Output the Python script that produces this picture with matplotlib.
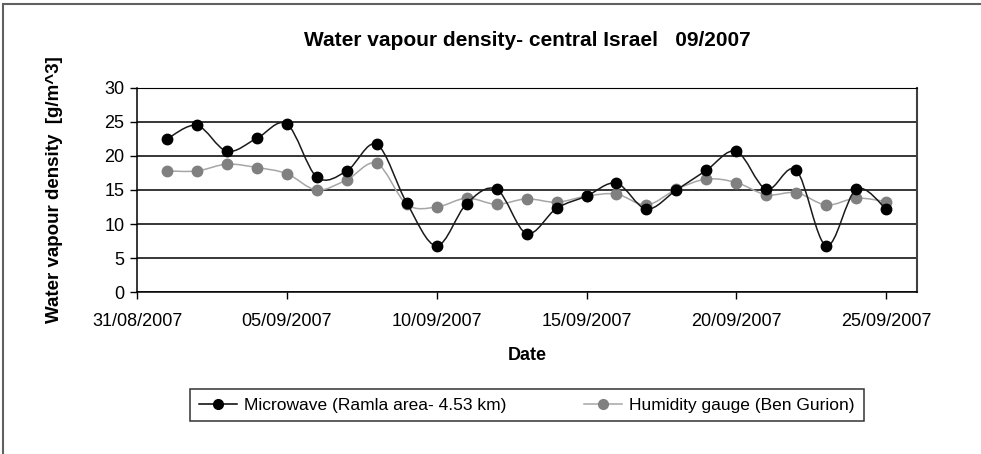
import numpy as np
import matplotlib
matplotlib.use("Agg")
import matplotlib.pyplot as plt
import matplotlib.dates as mdates
from matplotlib.path import Path
from matplotlib.patches import PathPatch, Rectangle
from matplotlib.lines import Line2D
import datetime as dt

plt.rcParams['font.family'] = ['Liberation Sans', 'DejaVu Sans']

# daily values, 1/9/2007 .. 25/9/2007
days = [dt.date(2007, 9, d) for d in range(1, 26)]
microwave = [22.5, 24.5, 20.7, 22.6, 24.7, 16.9, 17.8, 21.7, 13.1, 6.8,
             13.0, 15.1, 8.6, 12.3, 14.1, 16.0, 12.2, 15.0, 17.9, 20.7,
             15.1, 17.9, 6.8, 15.1, 12.2]
humidity = [17.8, 17.8, 18.8, 18.3, 17.4, 15.0, 16.5, 18.9, 12.9, 12.5,
            13.8, 12.9, 13.7, 13.2, 14.1, 14.4, 12.8, 15.1, 16.6, 16.1,
            14.3, 14.6, 12.8, 13.8, 13.3]
label_mw = 'Microwave (Ramla area- 4.53 km)'
label_hg = 'Humidity gauge (Ben Gurion)'


# smoothed line like the spreadsheet one (bezier through the points)
def smooth_path(x, y):
	x = np.asarray(x, float)
	y = np.asarray(y, float)
	verts = [(x[0], y[0])]
	codes = [Path.MOVETO]
	n = len(x)
	for i in range(n - 1):
		x0, y0 = (x[i - 1], y[i - 1]) if i > 0 else (x[i], y[i])
		x3, y3 = (x[i + 2], y[i + 2]) if i < n - 2 else (x[i + 1], y[i + 1])
		c1 = (x[i] + (x[i + 1] - x0) / 6, y[i] + (y[i + 1] - y0) / 6)
		c2 = (x[i + 1] - (x3 - x[i]) / 6, y[i + 1] - (y3 - y[i]) / 6)
		verts += [c1, c2, (x[i + 1], y[i + 1])]
		codes += [Path.CURVE4] * 3
	return Path(verts, codes)


fig = plt.figure(figsize=(9.81, 4.54), dpi=100)
ax = fig.add_axes([0.1397, 0.3568, 0.7951, 0.4494])

xd = mdates.date2num(days)
ax.add_patch(PathPatch(smooth_path(xd, humidity), fill=False, edgecolor='#a6a6a6', lw=1.1, zorder=3))
ax.plot(xd, humidity, ls='none', marker='o', ms=7.5, color='#808080', zorder=4)
ax.add_patch(PathPatch(smooth_path(xd, microwave), fill=False, edgecolor='#1a1a1a', lw=1.1, zorder=5))
ax.plot(xd, microwave, ls='none', marker='o', ms=7.5, color='black', zorder=6)

ax.set_xlim(mdates.date2num(dt.date(2007, 8, 31)), mdates.date2num(dt.date(2007, 9, 26)) + 0.03)
ax.set_ylim(0, 30)
ax.set_yticks(range(0, 31, 5))
ticks = [dt.date(2007, 8, 31) + dt.timedelta(days=5 * k) for k in range(6)]
ax.set_xticks(mdates.date2num(ticks))
ax.xaxis.set_major_formatter(mdates.DateFormatter('%d/%m/%Y'))
ax.tick_params(axis='both', direction='out', length=5, width=1, color='black', labelsize=13, pad=4)
ax.tick_params(axis='x', pad=10)
ax.yaxis.grid(True, color='black', lw=1.1)
ax.set_axisbelow(True)
for s in ['left', 'bottom']:
	ax.spines[s].set_color('black')
	ax.spines[s].set_linewidth(1.1)
ax.spines['top'].set_color('black')
ax.spines['right'].set_color('#404040')
ax.spines['right'].set_linewidth(1.5)

ax.set_xlabel('Date', fontsize=13, fontweight='bold', labelpad=12)
ax.set_ylabel('Water vapour density  [g/m^3]', fontsize=13.5, fontweight='bold', labelpad=30)
ax.set_title('Water vapour density- central Israel   09/2007', fontsize=15, fontweight='bold', pad=30)

handles = [Line2D([], [], color='black', marker='o', ms=7, lw=1.1),
           Line2D([], [], color='#a6a6a6', marker='o', ms=7, mfc='#808080', mec='#808080', lw=1.1)]
leg = fig.legend(handles, [label_mw, label_hg], loc='center', bbox_to_anchor=(0.537, 0.1075),
                 ncol=2, frameon=True, fancybox=False, fontsize=12.5, handlelength=2.2,
                 columnspacing=4.5, borderpad=0.5, handletextpad=0.4, borderaxespad=0)
leg.get_frame().set_edgecolor('black')
leg.get_frame().set_linewidth(1.1)

fig.patches.append(Rectangle((0.003, -0.05), 1.2, 1.041, transform=fig.transFigure,
                             fill=False, edgecolor='#606060', lw=1.5))

fig.savefig('out.png', dpi=100)
